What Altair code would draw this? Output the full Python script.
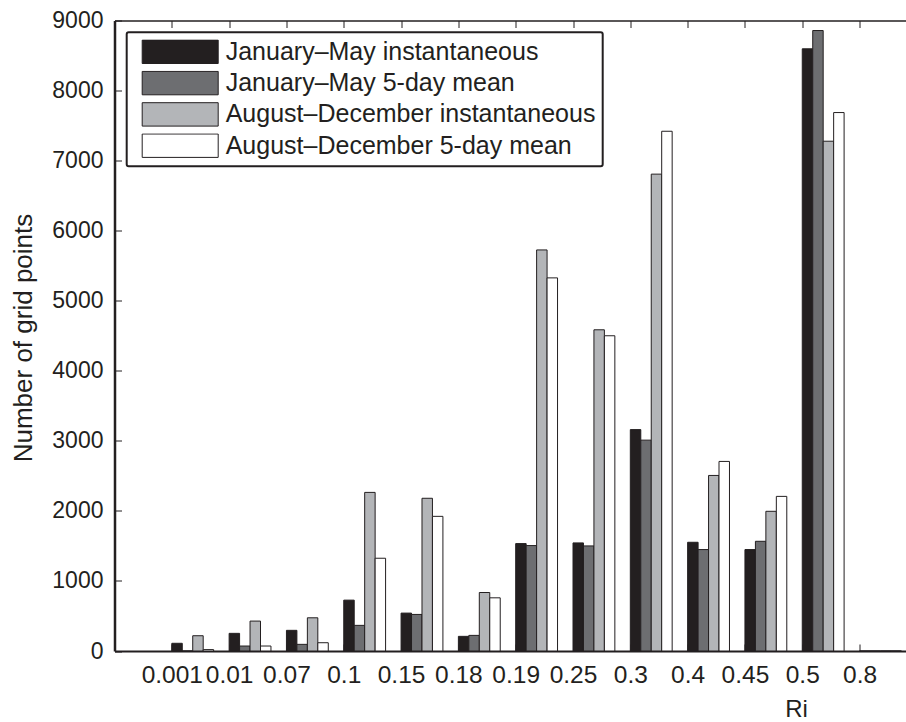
import altair as alt
import pandas as pd

# ---- data ----
categories = ["0.001", "0.01", "0.07", "0.1", "0.15", "0.18", "0.19",
              "0.25", "0.3", "0.4", "0.45", "0.5", "0.8"]
series_names = ["January\u2013May instantaneous",
                "January\u2013May 5-day mean",
                "August\u2013December instantaneous",
                "August\u2013December 5-day mean"]
jan_inst = [110, 252, 295, 726, 541, 209, 1533, 1543, 3160, 1552, 1448, 8596, 0]
jan_5day = [0, 71, 95, 366, 522, 223, 1505, 1500, 3010, 1448, 1566, 8857, 0]
aug_inst = [218, 427, 474, 2264, 2180, 835, 5725, 4585, 6807, 2506, 1994, 7277, 0]
aug_5day = [20, 71, 118, 1324, 1922, 759, 5326, 4500, 7419, 2706, 2207, 7686, 0]
y_ticks = [0, 1000, 2000, 3000, 4000, 5000, 6000, 7000, 8000, 9000]
colors = ["#231f20", "#6d6e71", "#b3b5b8", "#ffffff"]

# ---- layout ----
W, H = 791.5, 630.5
X_MAX, Y_MAX = 13.81, 9000
BAR_W = 0.1825
INK = "#231f20"
FONT = "Liberation Sans"
INWARD = alt.ExprRef(expr="-7")

series_vals = [jan_inst, jan_5day, aug_inst, aug_5day]
rows = []
for i, cat in enumerate(categories):
    for j, (name, vals) in enumerate(zip(series_names, series_vals)):
        x0 = (i + 1) + j * BAR_W
        rows.append({"cat": cat, "series": name, "order": j,
                     "x0": x0, "x1": x0 + BAR_W, "value": vals[i], "base": 0})
df = pd.DataFrame(rows)
positions = list(range(1, len(categories) + 1))
pos_df = pd.DataFrame({"x0": positions})

x_scale = alt.Scale(domain=[0, X_MAX], nice=False, zero=False)
y_scale = alt.Scale(domain=[0, Y_MAX], nice=False)

label_expr = "[" + ",".join("'" + c + "'" for c in categories) + "][datum.value - 1]"

x_axis = alt.Axis(values=positions, labelExpr=label_expr,
                  ticks=True, tickSize=INWARD, tickColor=INK, tickWidth=1,
                  grid=False, domain=True, domainColor=INK, domainWidth=2,
                  labelFontSize=24.5, labelFont=FONT, labelColor=INK,
                  labelBaseline="alphabetic", labelPadding=38,
                  labelFlush=False, labelOverlap=False,
                  title="Ri", titleFont=FONT, titleFontSize=24,
                  titleFontWeight="normal", titleColor=INK,
                  titleAnchor="start", titleAlign="center",
                  titleBaseline="alphabetic",
                  titleX=681.5, titleY=65)
top_axis = alt.Axis(orient="top", values=positions, labels=False, title=None,
                    ticks=True, tickSize=INWARD, tickColor=INK, tickWidth=1,
                    grid=False, domain=True, domainColor=INK, domainWidth=1.5)
y_axis = alt.Axis(values=y_ticks, format="d",
                  ticks=True, tickSize=INWARD, tickColor=INK, tickWidth=1,
                  grid=False, domain=True, domainColor=INK, domainWidth=2.5,
                  labelFontSize=23, labelFont=FONT, labelColor=INK,
                  labelPadding=18.5, labelFlush=False,
                  title="Number of grid points", titleFont=FONT,
                  titleFontSize=26, titleFontWeight="normal",
                  titleColor=INK, titleAngle=-90,
                  titleAlign="center", titleBaseline="alphabetic",
                  titleX=-82.8, titleY=317, titleAnchor="middle")

bars = alt.Chart(df).mark_bar(stroke=INK, strokeWidth=1, opacity=1).encode(
    x=alt.X("x0:Q", scale=x_scale, axis=x_axis),
    x2="x1:Q",
    y=alt.Y("value:Q", scale=y_scale, axis=y_axis),
    y2="base:Q",
    fill=alt.Fill("series:N", scale=alt.Scale(domain=series_names, range=colors),
                  legend=alt.Legend(
                      title=None, orient="none", legendX=12.2, legendY=11.8,
                      symbolType="M-1,-0.3079L1,-0.3079L1,0.3079L-1,0.3079Z",
                      symbolSize=5776, symbolStrokeColor=INK,
                      symbolStrokeWidth=1, symbolOpacity=1,
                      symbolOffset=8, labelOffset=7,
                      clipHeight=25, rowPadding=5.3,
                      labelFont=FONT, labelFontSize=25, labelColor=INK,
                      labelLimit=600, labelBaseline="middle",
                      padding=7, strokeColor=INK,
                      fillColor="white")),
    order=alt.Order("order:Q"),
)

top_frame = alt.Chart(pos_df).mark_point(opacity=0).encode(
    x=alt.X("x0:Q", scale=x_scale, axis=top_axis),
)

chart = alt.layer(bars, top_frame).resolve_axis(x="independent").properties(
    width=W, height=H,
    autosize=alt.AutoSizeParams(type="none"),
    padding={"left": 114.5, "top": 20.5, "right": 0, "bottom": 71},
    background="white",
).configure_view(stroke=None).configure_legend(strokeWidth=2, cornerRadius=2)

chart.save("out.html", embed_options={"renderer": "svg", "actions": False})
